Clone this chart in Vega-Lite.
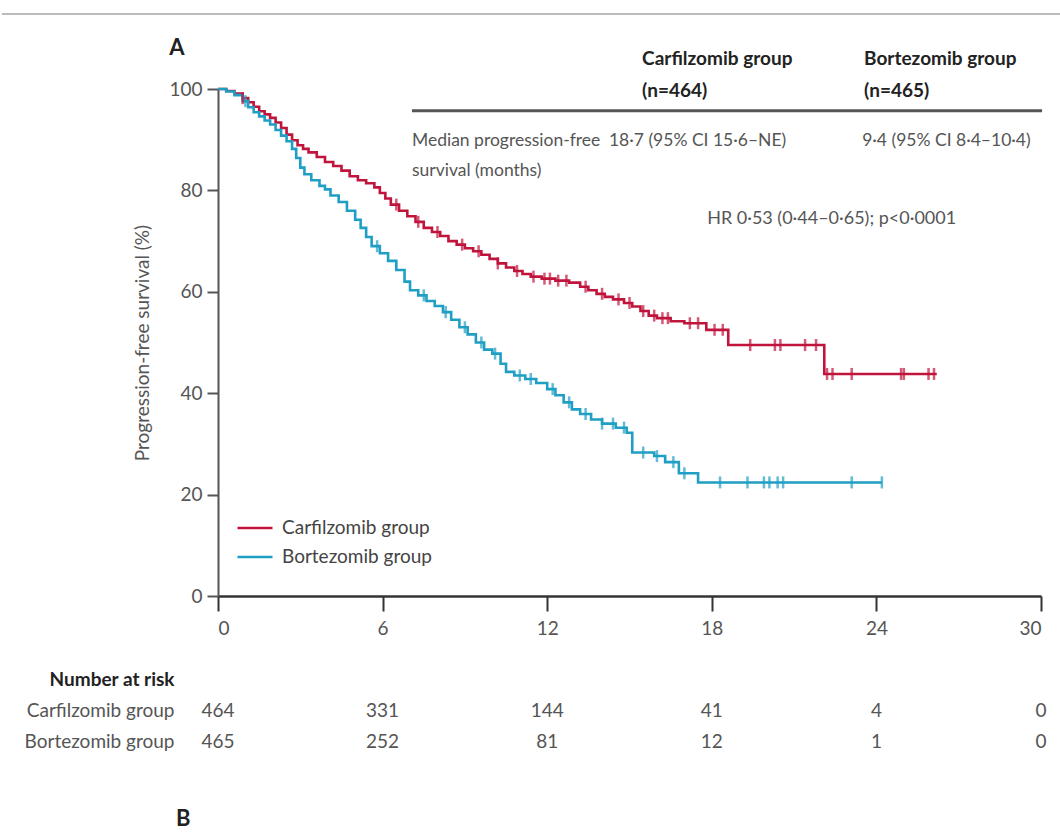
{
  "$schema": "https://vega.github.io/schema/vega-lite/v6.json",
  "padding": {"left": 0, "top": 12, "right": 0, "bottom": 10},
  "background": "white",
  "config": {
    "view": {"stroke": null},
    "font": "Lato",
    "text": {"font": "Lato"},
    "axis": {"labelFont": "Lato", "titleFont": "Lato"},
    "legend": {"labelFont": "Lato"},
    "title": {"font": "Lato"}
  },
  "datasets": {
    "km": [
      {"group": "Carfilzomib group", "time": 0, "surv": 100},
      {"group": "Carfilzomib group", "time": 0.3, "surv": 99.6},
      {"group": "Carfilzomib group", "time": 0.6, "surv": 99.1},
      {"group": "Carfilzomib group", "time": 0.9, "surv": 98.2},
      {"group": "Carfilzomib group", "time": 1.1, "surv": 97.4},
      {"group": "Carfilzomib group", "time": 1.3, "surv": 96.5},
      {"group": "Carfilzomib group", "time": 1.5, "surv": 95.6},
      {"group": "Carfilzomib group", "time": 1.7, "surv": 95.0},
      {"group": "Carfilzomib group", "time": 1.9, "surv": 94.3},
      {"group": "Carfilzomib group", "time": 2.1, "surv": 93.4},
      {"group": "Carfilzomib group", "time": 2.3, "surv": 92.3},
      {"group": "Carfilzomib group", "time": 2.5, "surv": 91.0},
      {"group": "Carfilzomib group", "time": 2.7, "surv": 89.9},
      {"group": "Carfilzomib group", "time": 2.9, "surv": 88.9},
      {"group": "Carfilzomib group", "time": 3.1, "surv": 88.2},
      {"group": "Carfilzomib group", "time": 3.3, "surv": 87.5},
      {"group": "Carfilzomib group", "time": 3.6, "surv": 86.6},
      {"group": "Carfilzomib group", "time": 3.9, "surv": 85.6},
      {"group": "Carfilzomib group", "time": 4.2, "surv": 84.8},
      {"group": "Carfilzomib group", "time": 4.5, "surv": 83.9},
      {"group": "Carfilzomib group", "time": 4.8, "surv": 82.8},
      {"group": "Carfilzomib group", "time": 5.1, "surv": 82.0},
      {"group": "Carfilzomib group", "time": 5.4, "surv": 81.4},
      {"group": "Carfilzomib group", "time": 5.7, "surv": 80.6},
      {"group": "Carfilzomib group", "time": 5.9, "surv": 79.5},
      {"group": "Carfilzomib group", "time": 6.1, "surv": 78.4},
      {"group": "Carfilzomib group", "time": 6.3, "surv": 77.2},
      {"group": "Carfilzomib group", "time": 6.6, "surv": 76.0},
      {"group": "Carfilzomib group", "time": 6.9, "surv": 74.9},
      {"group": "Carfilzomib group", "time": 7.2, "surv": 73.8},
      {"group": "Carfilzomib group", "time": 7.5, "surv": 72.6},
      {"group": "Carfilzomib group", "time": 7.8, "surv": 71.8},
      {"group": "Carfilzomib group", "time": 8.1, "surv": 71.0},
      {"group": "Carfilzomib group", "time": 8.4, "surv": 70.0},
      {"group": "Carfilzomib group", "time": 8.7, "surv": 69.3},
      {"group": "Carfilzomib group", "time": 9.0, "surv": 68.6},
      {"group": "Carfilzomib group", "time": 9.3, "surv": 68.0},
      {"group": "Carfilzomib group", "time": 9.6, "surv": 67.3},
      {"group": "Carfilzomib group", "time": 9.9, "surv": 66.5},
      {"group": "Carfilzomib group", "time": 10.2, "surv": 65.6},
      {"group": "Carfilzomib group", "time": 10.5, "surv": 64.8},
      {"group": "Carfilzomib group", "time": 10.8, "surv": 64.1},
      {"group": "Carfilzomib group", "time": 11.1, "surv": 63.5},
      {"group": "Carfilzomib group", "time": 11.4, "surv": 63.0},
      {"group": "Carfilzomib group", "time": 11.8, "surv": 62.6},
      {"group": "Carfilzomib group", "time": 12.3, "surv": 62.2},
      {"group": "Carfilzomib group", "time": 12.8, "surv": 61.8},
      {"group": "Carfilzomib group", "time": 13.2, "surv": 61.0},
      {"group": "Carfilzomib group", "time": 13.5, "surv": 60.3},
      {"group": "Carfilzomib group", "time": 13.8, "surv": 59.6},
      {"group": "Carfilzomib group", "time": 14.1, "surv": 59.0},
      {"group": "Carfilzomib group", "time": 14.4, "surv": 58.5},
      {"group": "Carfilzomib group", "time": 14.8, "surv": 57.8},
      {"group": "Carfilzomib group", "time": 15.1, "surv": 57.1},
      {"group": "Carfilzomib group", "time": 15.4, "surv": 56.2},
      {"group": "Carfilzomib group", "time": 15.7, "surv": 55.3},
      {"group": "Carfilzomib group", "time": 16.0, "surv": 54.8},
      {"group": "Carfilzomib group", "time": 16.5, "surv": 54.2},
      {"group": "Carfilzomib group", "time": 17.0, "surv": 53.8},
      {"group": "Carfilzomib group", "time": 17.8, "surv": 52.5},
      {"group": "Carfilzomib group", "time": 18.6, "surv": 49.5},
      {"group": "Carfilzomib group", "time": 22.1, "surv": 43.8},
      {"group": "Carfilzomib group", "time": 26.2, "surv": 43.8},
      {"group": "Bortezomib group", "time": 0, "surv": 100},
      {"group": "Bortezomib group", "time": 0.3, "surv": 99.5},
      {"group": "Bortezomib group", "time": 0.6, "surv": 98.8},
      {"group": "Bortezomib group", "time": 0.9, "surv": 97.6},
      {"group": "Bortezomib group", "time": 1.1, "surv": 96.4},
      {"group": "Bortezomib group", "time": 1.3, "surv": 95.4},
      {"group": "Bortezomib group", "time": 1.5, "surv": 94.6},
      {"group": "Bortezomib group", "time": 1.7, "surv": 93.8},
      {"group": "Bortezomib group", "time": 1.9, "surv": 93.0},
      {"group": "Bortezomib group", "time": 2.1, "surv": 91.9},
      {"group": "Bortezomib group", "time": 2.3, "surv": 90.8},
      {"group": "Bortezomib group", "time": 2.5, "surv": 89.7},
      {"group": "Bortezomib group", "time": 2.7, "surv": 88.2},
      {"group": "Bortezomib group", "time": 2.85, "surv": 86.4},
      {"group": "Bortezomib group", "time": 3.0, "surv": 84.5},
      {"group": "Bortezomib group", "time": 3.15, "surv": 83.2},
      {"group": "Bortezomib group", "time": 3.4, "surv": 82.0},
      {"group": "Bortezomib group", "time": 3.7, "surv": 80.9},
      {"group": "Bortezomib group", "time": 3.9, "surv": 80.2},
      {"group": "Bortezomib group", "time": 4.1, "surv": 79.0},
      {"group": "Bortezomib group", "time": 4.4, "surv": 77.7},
      {"group": "Bortezomib group", "time": 4.7, "surv": 76.0},
      {"group": "Bortezomib group", "time": 5.0, "surv": 74.2},
      {"group": "Bortezomib group", "time": 5.2, "surv": 72.6},
      {"group": "Bortezomib group", "time": 5.4, "surv": 70.8},
      {"group": "Bortezomib group", "time": 5.6, "surv": 69.0},
      {"group": "Bortezomib group", "time": 5.9, "surv": 67.6},
      {"group": "Bortezomib group", "time": 6.2, "surv": 66.1},
      {"group": "Bortezomib group", "time": 6.5, "surv": 64.3},
      {"group": "Bortezomib group", "time": 6.8, "surv": 62.0},
      {"group": "Bortezomib group", "time": 7.0, "surv": 60.3},
      {"group": "Bortezomib group", "time": 7.3, "surv": 59.3},
      {"group": "Bortezomib group", "time": 7.6, "surv": 58.2},
      {"group": "Bortezomib group", "time": 7.9, "surv": 57.2},
      {"group": "Bortezomib group", "time": 8.2, "surv": 56.0},
      {"group": "Bortezomib group", "time": 8.5, "surv": 54.5},
      {"group": "Bortezomib group", "time": 8.8, "surv": 53.0},
      {"group": "Bortezomib group", "time": 9.1, "surv": 51.6},
      {"group": "Bortezomib group", "time": 9.4, "surv": 50.0},
      {"group": "Bortezomib group", "time": 9.7, "surv": 48.6},
      {"group": "Bortezomib group", "time": 10.0, "surv": 47.8},
      {"group": "Bortezomib group", "time": 10.3, "surv": 45.8},
      {"group": "Bortezomib group", "time": 10.5, "surv": 44.2},
      {"group": "Bortezomib group", "time": 10.8, "surv": 43.5},
      {"group": "Bortezomib group", "time": 11.2, "surv": 42.8},
      {"group": "Bortezomib group", "time": 11.6, "surv": 42.0},
      {"group": "Bortezomib group", "time": 12.0, "surv": 40.8},
      {"group": "Bortezomib group", "time": 12.3, "surv": 39.6},
      {"group": "Bortezomib group", "time": 12.6, "surv": 38.2},
      {"group": "Bortezomib group", "time": 12.9, "surv": 36.8},
      {"group": "Bortezomib group", "time": 13.2, "surv": 35.9},
      {"group": "Bortezomib group", "time": 13.6, "surv": 34.8},
      {"group": "Bortezomib group", "time": 14.0, "surv": 34.0},
      {"group": "Bortezomib group", "time": 14.5, "surv": 33.2},
      {"group": "Bortezomib group", "time": 14.9, "surv": 32.2},
      {"group": "Bortezomib group", "time": 15.1, "surv": 28.3},
      {"group": "Bortezomib group", "time": 15.9, "surv": 27.6},
      {"group": "Bortezomib group", "time": 16.3, "surv": 26.4},
      {"group": "Bortezomib group", "time": 16.8, "surv": 24.2},
      {"group": "Bortezomib group", "time": 17.5, "surv": 22.4},
      {"group": "Bortezomib group", "time": 24.2, "surv": 22.4}
    ],
    "censor": [
      {"group": "Carfilzomib group", "time": 0.9, "surv": 98.2},
      {"group": "Carfilzomib group", "time": 6.5, "surv": 77.2},
      {"group": "Carfilzomib group", "time": 7.3, "surv": 73.8},
      {"group": "Carfilzomib group", "time": 8.0, "surv": 71.8},
      {"group": "Carfilzomib group", "time": 8.9, "surv": 69.3},
      {"group": "Carfilzomib group", "time": 9.5, "surv": 68.0},
      {"group": "Carfilzomib group", "time": 10.2, "surv": 65.6},
      {"group": "Carfilzomib group", "time": 10.9, "surv": 64.1},
      {"group": "Carfilzomib group", "time": 11.5, "surv": 63.0},
      {"group": "Carfilzomib group", "time": 11.9, "surv": 62.6},
      {"group": "Carfilzomib group", "time": 12.1, "surv": 62.6},
      {"group": "Carfilzomib group", "time": 12.4, "surv": 62.2},
      {"group": "Carfilzomib group", "time": 12.7, "surv": 62.2},
      {"group": "Carfilzomib group", "time": 13.4, "surv": 61.0},
      {"group": "Carfilzomib group", "time": 14.0, "surv": 59.6},
      {"group": "Carfilzomib group", "time": 14.6, "surv": 58.5},
      {"group": "Carfilzomib group", "time": 15.0, "surv": 57.8},
      {"group": "Carfilzomib group", "time": 15.5, "surv": 56.2},
      {"group": "Carfilzomib group", "time": 15.9, "surv": 55.3},
      {"group": "Carfilzomib group", "time": 16.2, "surv": 54.8},
      {"group": "Carfilzomib group", "time": 16.4, "surv": 54.8},
      {"group": "Carfilzomib group", "time": 17.2, "surv": 53.8},
      {"group": "Carfilzomib group", "time": 17.5, "surv": 53.8},
      {"group": "Carfilzomib group", "time": 18.1, "surv": 52.5},
      {"group": "Carfilzomib group", "time": 18.4, "surv": 52.5},
      {"group": "Carfilzomib group", "time": 19.4, "surv": 49.5},
      {"group": "Carfilzomib group", "time": 20.3, "surv": 49.5},
      {"group": "Carfilzomib group", "time": 20.5, "surv": 49.5},
      {"group": "Carfilzomib group", "time": 21.4, "surv": 49.5},
      {"group": "Carfilzomib group", "time": 21.8, "surv": 49.5},
      {"group": "Carfilzomib group", "time": 22.2, "surv": 43.8},
      {"group": "Carfilzomib group", "time": 22.4, "surv": 43.8},
      {"group": "Carfilzomib group", "time": 23.1, "surv": 43.8},
      {"group": "Carfilzomib group", "time": 24.9, "surv": 43.8},
      {"group": "Carfilzomib group", "time": 25.0, "surv": 43.8},
      {"group": "Carfilzomib group", "time": 25.9, "surv": 43.8},
      {"group": "Carfilzomib group", "time": 26.1, "surv": 43.8},
      {"group": "Bortezomib group", "time": 1.0, "surv": 97.6},
      {"group": "Bortezomib group", "time": 5.8, "surv": 69.0},
      {"group": "Bortezomib group", "time": 7.5, "surv": 59.3},
      {"group": "Bortezomib group", "time": 8.3, "surv": 56.0},
      {"group": "Bortezomib group", "time": 9.0, "surv": 53.0},
      {"group": "Bortezomib group", "time": 9.6, "surv": 50.0},
      {"group": "Bortezomib group", "time": 10.1, "surv": 47.8},
      {"group": "Bortezomib group", "time": 11.0, "surv": 43.5},
      {"group": "Bortezomib group", "time": 11.4, "surv": 42.8},
      {"group": "Bortezomib group", "time": 12.2, "surv": 40.8},
      {"group": "Bortezomib group", "time": 12.8, "surv": 38.2},
      {"group": "Bortezomib group", "time": 13.4, "surv": 35.9},
      {"group": "Bortezomib group", "time": 14.0, "surv": 34.0},
      {"group": "Bortezomib group", "time": 14.4, "surv": 34.0},
      {"group": "Bortezomib group", "time": 14.8, "surv": 33.2},
      {"group": "Bortezomib group", "time": 15.5, "surv": 28.3},
      {"group": "Bortezomib group", "time": 16.0, "surv": 27.6},
      {"group": "Bortezomib group", "time": 16.6, "surv": 26.4},
      {"group": "Bortezomib group", "time": 17.0, "surv": 24.2},
      {"group": "Bortezomib group", "time": 18.3, "surv": 22.4},
      {"group": "Bortezomib group", "time": 19.3, "surv": 22.4},
      {"group": "Bortezomib group", "time": 19.9, "surv": 22.4},
      {"group": "Bortezomib group", "time": 20.1, "surv": 22.4},
      {"group": "Bortezomib group", "time": 20.4, "surv": 22.4},
      {"group": "Bortezomib group", "time": 20.6, "surv": 22.4},
      {"group": "Bortezomib group", "time": 23.1, "surv": 22.4},
      {"group": "Bortezomib group", "time": 24.2, "surv": 22.4}
    ],
    "risk": [
      {"group": "Carfilzomib group", "time": 0, "n": 464},
      {"group": "Carfilzomib group", "time": 6, "n": 331},
      {"group": "Carfilzomib group", "time": 12, "n": 144},
      {"group": "Carfilzomib group", "time": 18, "n": 41},
      {"group": "Carfilzomib group", "time": 24, "n": 4},
      {"group": "Carfilzomib group", "time": 30, "n": 0},
      {"group": "Bortezomib group", "time": 0, "n": 465},
      {"group": "Bortezomib group", "time": 6, "n": 252},
      {"group": "Bortezomib group", "time": 12, "n": 81},
      {"group": "Bortezomib group", "time": 18, "n": 12},
      {"group": "Bortezomib group", "time": 24, "n": 1},
      {"group": "Bortezomib group", "time": 30, "n": 0}
    ]
  },
  "title": {"text": "B", "orient": "bottom", "anchor": "start", "frame": "group", "dx": -42, "offset": 52, "fontSize": 22, "fontWeight": "bold", "color": "#222"},
  "bounds": "flush",
  "spacing": 68,
  "vconcat": [
    {
      "width": 823,
      "height": 507,
      "layer": [
        {
          "data": {"name": "km"},
          "mark": {"type": "line", "interpolate": "step-after", "strokeWidth": 2.6},
          "encoding": {
            "x": {"field": "time", "type": "quantitative", "scale": {"domain": [0, 30], "nice": false},
              "axis": {"values": [0, 6, 12, 18, 24, 30], "title": null, "grid": false, "domainColor": "#333", "domainWidth": 2.5, "tickColor": "#333", "tickWidth": 2, "tickSize": 15, "labelFontSize": 19, "labelColor": "#555", "labelPadding": 8}},
            "y": {"field": "surv", "type": "quantitative", "scale": {"domain": [0, 100], "nice": false},
              "axis": {"values": [0, 20, 40, 60, 80, 100], "title": "Progression-free survival (%)", "grid": false, "domainColor": "#555", "domainWidth": 2, "tickColor": "#555", "tickWidth": 2, "tickSize": 11, "labelFontSize": 19, "labelColor": "#555", "labelPadding": 5, "titleFontSize": 19, "titleFontWeight": "normal", "titleColor": "#555", "titlePadding": 16}},
            "color": {"field": "group", "type": "nominal",
              "scale": {"domain": ["Carfilzomib group", "Bortezomib group"], "range": ["#c0143c", "#1f9fc4"]},
              "legend": {"title": null, "orient": "none", "legendX": 18, "legendY": 420, "padding": 0, "symbolType": "stroke", "symbolSize": 1225, "symbolStrokeWidth": 2.5, "labelFontSize": 19, "labelColor": "#444", "labelOffset": 8, "rowPadding": 0}}
          }
        },
        {
          "data": {"name": "censor"},
          "mark": {"type": "tick", "orient": "vertical", "size": 12, "thickness": 2.5},
          "encoding": {
            "x": {"field": "time", "type": "quantitative"},
            "y": {"field": "surv", "type": "quantitative"},
            "color": {"field": "group", "type": "nominal", "legend": null}
          }
        },
        {
          "data": {"values": [{}]},
          "mark": {"type": "rule", "color": "#bbbbbb", "strokeWidth": 2},
          "encoding": {"x": {"datum": -7.874}, "x2": {"datum": 30.766}, "y": {"datum": 114.8}}
        },
        {
          "data": {"values": [{}]},
          "mark": {"type": "rule", "color": "#555555", "strokeWidth": 3},
          "encoding": {"x": {"datum": 7.07}, "x2": {"datum": 30.04}, "y": {"datum": 95.7}}
        },
        {
          "data": {"values": [{}]},
          "mark": {"type": "text", "text": "A", "fontSize": 22, "fontWeight": "bold", "color": "#222", "align": "center", "baseline": "middle"},
          "encoding": {"x": {"datum": -1.5}, "y": {"datum": 108.0}}
        },
        {
          "data": {"values": [{}]},
          "mark": {"type": "text", "text": "Carfilzomib group", "fontSize": 19, "fontWeight": "bold", "color": "#222", "align": "left", "baseline": "middle"},
          "encoding": {"x": {"datum": 15.46}, "y": {"datum": 105.9}}
        },
        {
          "data": {"values": [{}]},
          "mark": {"type": "text", "text": "(n=464)", "fontSize": 19, "fontWeight": "bold", "color": "#222", "align": "left", "baseline": "middle"},
          "encoding": {"x": {"datum": 15.46}, "y": {"datum": 99.6}}
        },
        {
          "data": {"values": [{}]},
          "mark": {"type": "text", "text": "Bortezomib group", "fontSize": 19, "fontWeight": "bold", "color": "#222", "align": "left", "baseline": "middle"},
          "encoding": {"x": {"datum": 23.55}, "y": {"datum": 105.9}}
        },
        {
          "data": {"values": [{}]},
          "mark": {"type": "text", "text": "(n=465)", "fontSize": 19, "fontWeight": "bold", "color": "#222", "align": "left", "baseline": "middle"},
          "encoding": {"x": {"datum": 23.55}, "y": {"datum": 99.6}}
        },
        {
          "data": {"values": [{}]},
          "mark": {"type": "text", "text": "Median progression-free", "fontSize": 17.5, "color": "#555", "align": "left", "baseline": "middle"},
          "encoding": {"x": {"datum": 7.07}, "y": {"datum": 89.7}}
        },
        {
          "data": {"values": [{}]},
          "mark": {"type": "text", "text": "survival (months)", "fontSize": 17.5, "color": "#555", "align": "left", "baseline": "middle"},
          "encoding": {"x": {"datum": 7.07}, "y": {"datum": 83.8}}
        },
        {
          "data": {"values": [{}]},
          "mark": {"type": "text", "text": "18·7 (95% CI 15·6–NE)", "fontSize": 17.5, "color": "#555", "align": "left", "baseline": "middle"},
          "encoding": {"x": {"datum": 14.25}, "y": {"datum": 89.7}}
        },
        {
          "data": {"values": [{}]},
          "mark": {"type": "text", "text": "9·4 (95% CI 8·4–10·4)", "fontSize": 17.5, "color": "#555", "align": "left", "baseline": "middle"},
          "encoding": {"x": {"datum": 23.48}, "y": {"datum": 89.7}}
        },
        {
          "data": {"values": [{}]},
          "mark": {"type": "text", "text": "HR 0·53 (0·44–0·65); p<0·0001", "fontSize": 18, "color": "#555", "align": "left", "baseline": "middle"},
          "encoding": {"x": {"datum": 17.83}, "y": {"datum": 74.4}}
        }
      ]
    },
    {
      "width": 823,
      "height": 93,
      "data": {"name": "risk"},
      "mark": {"type": "text", "fontSize": 19, "color": "#555", "align": "center", "baseline": "middle"},
      "encoding": {
        "x": {"field": "time", "type": "quantitative", "scale": {"domain": [0, 30], "nice": false}, "axis": null},
        "y": {"field": "group", "type": "nominal",
          "scale": {"domain": ["Number at risk", "Carfilzomib group", "Bortezomib group"], "paddingInner": 0, "paddingOuter": 0},
          "axis": {"title": null, "domain": false, "ticks": false, "labelFontSize": 19, "labelPadding": 44,
            "labelColor": {"condition": {"test": "datum.value === 'Number at risk'", "value": "#222"}, "value": "#555"},
            "labelFontWeight": {"condition": {"test": "datum.value === 'Number at risk'", "value": "bold"}, "value": "normal"}}},
        "text": {"field": "n", "type": "quantitative"}
      }
    }
  ]
}
